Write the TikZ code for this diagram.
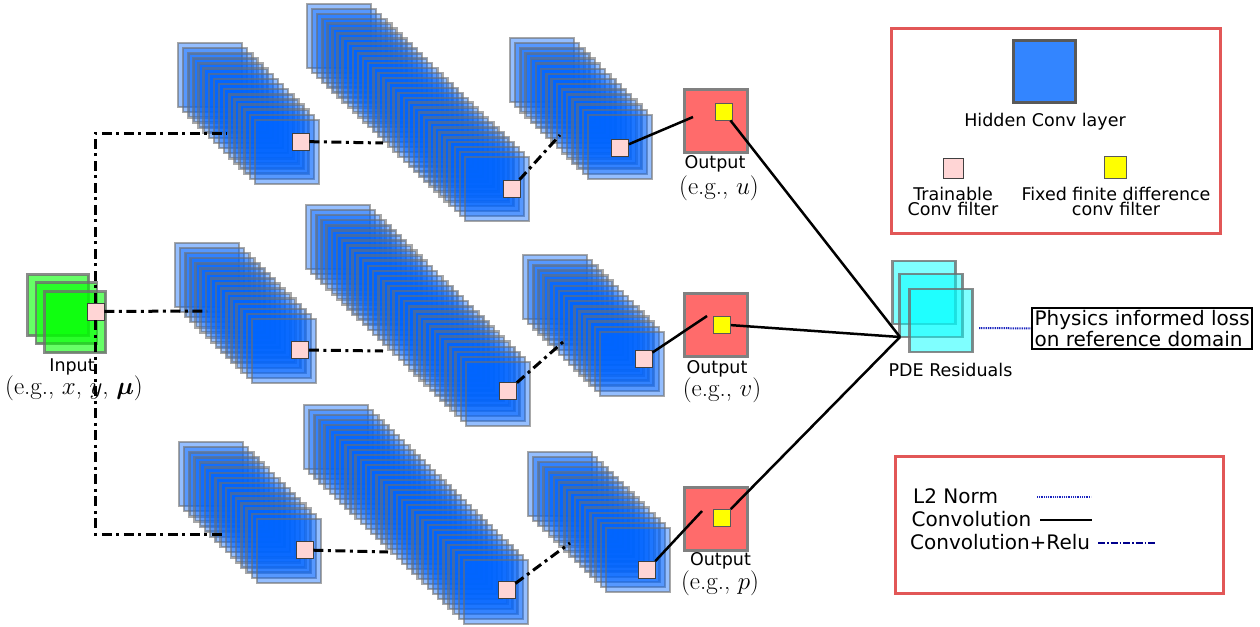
\RequirePackage{fix-cm}
\documentclass[tikz,border=0pt]{standalone}
\usepackage{amsmath, amssymb}
\usepackage{bm}
\usepackage[dvipsnames]{xcolor}
\usepackage{fontspec}
\setsansfont{DejaVu Sans}
\usepackage{tikz}
\usetikzlibrary{calc}

\definecolor{layerblue}{RGB}{0,100,255}
\definecolor{keyblue}{RGB}{51,133,255}
\definecolor{filterpink}{RGB}{255,213,213}
\definecolor{outred}{RGB}{255,107,107}
\definecolor{boxred}{RGB}{226,87,87}
\definecolor{lossblue}{RGB}{25,35,190}
\definecolor{pdecyan}{RGB}{0,255,255}
\definecolor{ingreen}{RGB}{0,255,0}
\definecolor{fdyellow}{RGB}{255,255,0}
\definecolor{edgegray}{RGB}{110,110,110}

\tikzset{
  convlayer/.style={draw=edgegray, draw opacity=0.6, line width=2.5pt, fill=layerblue, fill opacity=0.42},
  inmap/.style={draw=edgegray, draw opacity=0.8, line width=2.5pt, fill=ingreen, fill opacity=0.6, minimum size=61pt, inner sep=0},
  pdemap/.style={draw=edgegray, draw opacity=0.8, line width=2.5pt, fill=pdecyan, fill opacity=0.5, minimum size=63pt, inner sep=0},
  outmap/.style={draw=gray, line width=3pt, fill=outred, minimum size=63pt, inner sep=0},
  trainfilter/.style={draw=black!75, line width=0.8pt, fill=filterpink, minimum size=17pt, inner sep=0},
  fdfilter/.style={draw=black!65, line width=0.8pt, fill=fdyellow, minimum size=17pt, inner sep=0},
  relu/.style={line width=3pt, dash pattern=on 10pt off 4.5pt on 3pt off 4.5pt},
  conv/.style={line width=2.5pt},
  lossline/.style={lossblue, line width=2pt, dash pattern=on 1pt off 0.8pt},
  keybox/.style={draw=boxred, line width=3pt},
  lbl/.style={font=\sffamily\fontsize{17.5}{15}\selectfont, inner sep=0, anchor=base},
  mathlbl/.style={font=\fontsize{25}{27}\selectfont, inner sep=0, anchor=base},
  keytxt/.style={font=\sffamily\fontsize{20}{23}\selectfont, inner sep=0, anchor=base west}
}

% one hidden layer drawn as a diagonal pile of feature maps
\newcommand{\layerstack}[5]{%
  \foreach \k in {0,...,#5}
    \draw[convlayer] ({#1+(#3-#1)*\k/#5},{#2+(#4-#2)*\k/#5}) rectangle ++(64,64);
}

\begin{document}
\begin{tikzpicture}[x=1pt, y=-1pt]
\useasboundingbox (0,0) rectangle (1260,626);

% input
\node[inmap] (in1) at (58,305) {};
\node[inmap] (in2) at (66.5,313) {};
\node[inmap] (in3) at (75,322) {};
\node[lbl] (inLbl) at (72,371) {Input};
\node[mathlbl] (inEg) at (74,394) {(e.g., $x$, $y$, $\bm{\mu}$)};

% hidden layers
\layerstack{178}{43}{255}{120}{15}
\layerstack{307}{4}{465}{157}{31}
\layerstack{510}{38}{588}{115}{15}
\layerstack{175}{243}{252}{319}{15}
\layerstack{306}{205}{466}{362}{31}
\layerstack{523}{255}{600}{332}{15}
\layerstack{179}{442}{257}{519}{15}
\layerstack{304}{405}{464}{560}{31}
\layerstack{528}{452}{606}{528}{15}

% outputs
\node[outmap] (outU) at (715.5,120.5) {};
\node[outmap] (outV) at (715.5,325) {};
\node[outmap] (outP) at (715.5,518.5) {};
\node[lbl] (outULbl) at (715,168) {Output};
\node[mathlbl] (outUEg) at (719,194) {(e.g., $u$)};
\node[lbl] (outVLbl) at (717,373) {Output};
\node[mathlbl] (outVEg) at (722,396) {(e.g., $v$)};
\node[lbl] (outPLbl) at (720.5,565) {Output};
\node[mathlbl] (outPEg) at (720,589) {(e.g., $p$)};

% residuals
\node[pdemap] (pde1) at (924,292.5) {};
\node[pdemap] (pde2) at (931,305.5) {};
\node[pdemap] (pde3) at (941,320.5) {};
\node[lbl] (pdeLbl) at (950.5,376.5) {PDE Residuals};
\node[draw, line width=2pt, inner sep=2.5pt, align=left, anchor=north west,
      font=\sffamily\fontsize{20}{19}\selectfont] (loss) at (1031,307)
      {Physics informed loss\\on reference domain};

% filters
\node[trainfilter] (fIn) at (95.5,311.5) {};
\node[trainfilter] (fA1) at (300.5,141.5) {};
\node[trainfilter] (fA2) at (511.5,188.5) {};
\node[trainfilter] (fA3) at (620,148) {};
\node[trainfilter] (fB1) at (300,350) {};
\node[trainfilter] (fB2) at (508,390.5) {};
\node[trainfilter] (fB3) at (643.5,358.5) {};
\node[trainfilter] (fC1) at (304.5,550) {};
\node[trainfilter] (fC2) at (506.5,590) {};
\node[trainfilter] (fC3) at (647,570) {};
\node[fdfilter] (yU) at (723.5,111.5) {};
\node[fdfilter] (yV) at (722,324.5) {};
\node[fdfilter] (yP) at (722,518) {};

% line ends
\coordinate (aIn) at (227,133);
\coordinate (bIn) at (207,311);
\coordinate (cIn) at (222,534);
\coordinate (a12) at (383,143);
\coordinate (a23) at (560,135);
\coordinate (aOut) at (693,117);
\coordinate (b12) at (383,351);
\coordinate (b23) at (563,342);
\coordinate (bOut) at (707,316);
\coordinate (c12) at (388,552);
\coordinate (c23) at (570,543);
\coordinate (cOut) at (702,511);
\coordinate (pdeIn) at (900,337);
\coordinate (lossStart) at (979,328);

\draw[relu] (fIn) |- (aIn);
\draw[relu] (fIn) |- (cIn);
\draw[relu] (fIn) -- (bIn);
\draw[relu] (fA1) -- (a12);
\draw[relu] (fA2) -- (a23);
\draw[relu] (fB1) -- (b12);
\draw[relu] (fB2) -- (b23);
\draw[relu] (fC1) -- (c12);
\draw[relu] (fC2) -- (c23);
\draw[conv] (fA3) -- (aOut);
\draw[conv] (fB3) -- (bOut);
\draw[conv] (fC3) -- (cOut);
\draw[conv] (yU) -- (pdeIn);
\draw[conv] (yV) -- (pdeIn);
\draw[conv] (yP) -- (pdeIn);
\draw[lossline] (lossStart) -- (loss.west);

% key: blocks
\draw[keybox] (891,29) rectangle (1220,233);
\node[draw=black!65, line width=3pt, fill=keyblue, minimum size=62pt, inner sep=0] (keyLayer) at (1044.5,71.5) {};
\node[lbl] (keyLayerLbl) at (1045,126.5) {Hidden Conv layer};
\node[trainfilter, minimum size=20pt] (keyTrain) at (953,168.5) {};
\node[fdfilter, minimum size=22pt] (keyFd) at (1115.5,167.5) {};
\node[lbl, anchor=center, align=center] (keyTrainLbl) at (953,201) {Trainable\\Conv filter};
\node[lbl, anchor=center, align=center] (keyFdLbl) at (1116,201) {Fixed finite difference\\conv filter};

% key: connectors
\draw[keybox] (895,456) rectangle (1223,593);
\node[keytxt] (keyL2) at (913,503.5) {L2 Norm};
\node[keytxt] (keyConv) at (911.5,526) {Convolution};
\node[keytxt] (keyRelu) at (910,549.5) {Convolution+Relu};
\coordinate (l2a) at (1037,496.5);
\coordinate (l2b) at (1091,496.5);
\coordinate (cva) at (1040,519.5);
\coordinate (cvb) at (1092,519.5);
\coordinate (rla) at (1098,543);
\coordinate (rlb) at (1157,543);
\draw[lossline] (l2a) -- (l2b);
\draw[line width=2pt] (cva) -- (cvb);
\draw[blue!55!black, line width=1.5pt, dash pattern=on 7pt off 2pt on 1.5pt off 2pt] (rla) -- (rlb);
\end{tikzpicture}
\end{document}
